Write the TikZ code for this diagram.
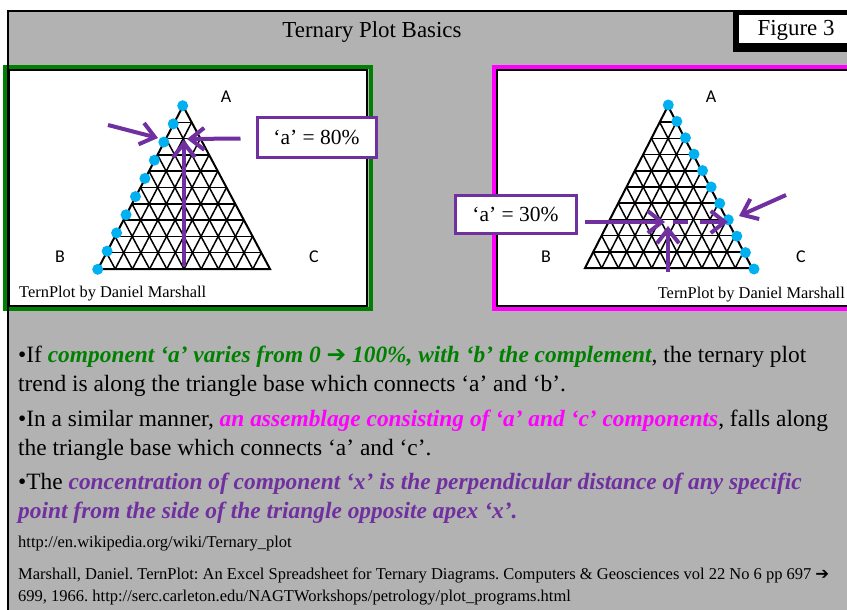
\documentclass[tikz,border=0pt]{standalone}
\usepackage{fontspec}
\setmainfont{Liberation Serif}
\newfontfamily\lblfont{Carlito}
\newfontfamily\symfont{DejaVu Sans}
\usepackage{xcolor}
\usetikzlibrary{arrows.meta,calc}

\definecolor{slidegray}{RGB}{178,178,178}
\definecolor{panelgreen}{RGB}{0,128,0}
\definecolor{panelpink}{RGB}{255,0,255}
\definecolor{arrowpurple}{RGB}{112,48,160}
\definecolor{dotblue}{RGB}{0,176,240}
\newcommand{\keyphrase}[2]{\textcolor{#1}{\bfseries\itshape #2}}
\frenchspacing

\begin{document}
\begin{tikzpicture}[
  x=1pt, y=-1pt,
  body/.style={anchor=base west, inner sep=0pt, font=\fontsize{23.4}{27}\selectfont},
  refline/.style={anchor=base west, inner sep=0pt, font=\fontsize{16.5}{19}\selectfont},
  corner/.style={inner sep=0pt, font=\lblfont\fontsize{18}{21}\selectfont},
  credit/.style={inner sep=0pt, font=\fontsize{16.4}{19}\selectfont},
  valbox/.style={draw=arrowpurple, line width=3pt, fill=white, inner sep=0pt, font=\fontsize{21.5}{25}\selectfont},
  pointer/.style={arrowpurple, line width=4pt, -{Straight Barb[length=14pt,width=22pt]}},
  gridline/.style={line width=1.5pt},
  dot/.style={circle, fill=dotblue, inner sep=0pt, minimum size=11pt},
]
\useasboundingbox (0,0) rectangle (847,610);
\clip (0,0) rectangle (847,610);
% slide background
\fill[white] (0,0) rectangle (847,610);
\fill[slidegray] (8,11) rectangle (870,630);
% picture panels
\draw[panelgreen, line width=4pt] (5,67) rectangle (371,309);
\draw[fill=white, line width=1.2pt] (9.5,70) rectangle (367,306);
\draw[panelpink, line width=4pt] (494,67) rectangle (880,309);
\draw[fill=white, line width=1.2pt] (497,70) rectangle (880,306);
\draw[line width=2pt] (8,630) -- (8,11) -- (870,11);
% title and figure tag
\node[font=\fontsize{22.9}{26}\selectfont] (title) at (372,32) {Ternary Plot Basics};
\fill (733,10) rectangle (870,52);
\fill[white] (739,15) rectangle (870,43);
\node[font=\fontsize{22.9}{26}\selectfont] (figtag) at (796,30) {Figure 3};
% triangle corners (l = left plot, r = right plot)
\coordinate (lA) at (183,106); \coordinate (lB) at (98,269); \coordinate (lC) at (270,269);
\coordinate (rA) at (668,106); \coordinate (rB) at (585,268); \coordinate (rC) at (752,268);
\foreach \side in {l,r}{
  \foreach \i in {1,...,9}{
    \draw[gridline] ($(\side B)!\i/10!(\side A)$) -- ($(\side C)!\i/10!(\side A)$);
    \draw[gridline] ($(\side B)!\i/10!(\side C)$) -- ($(\side B)!\i/10!(\side A)$);
    \draw[gridline] ($(\side B)!\i/10!(\side C)$) -- ($(\side C)!1-\i/10!(\side A)$);
  }
  \draw[line width=2pt] (\side A) -- (\side B) -- (\side C) -- cycle;
}
% data points
\foreach \k in {0,...,9}
  \node[dot] (ldot\k) at ($(182.7,105.7)!\k/9!(97.7,269.3)$) {};
\foreach \k in {0,...,10}
  \node[dot] (rdot\k) at ($(668.3,105)!\k/10!(754,269)$) {};
% apex labels
\node[corner] (lAname) at (226,97) {A};
\node[corner] (lBname) at (60,257) {B};
\node[corner] (lCname) at (314,257) {C};
\node[corner] (rAname) at (711,97) {A};
\node[corner] (rBname) at (546,257) {B};
\node[corner] (rCname) at (801,257) {C};
\node[credit, anchor=base west] (lcredit) at (19,297) {TernPlot by Daniel Marshall};
\node[credit, anchor=base east] (rcredit) at (845,298) {TernPlot by Daniel Marshall};
% value boxes and pointers
\node[valbox, minimum width=119pt, minimum height=40pt] (lval) at (316.5,137.5) {‘a’ = 80\%};
\node[valbox, minimum width=121pt, minimum height=38pt] (rval) at (515.5,214) {‘a’ = 30\%};
\coordinate (lhs) at ($(lval.west)+(-15,1)$);
\coordinate (lhe) at (187,139);
\coordinate (lvs) at (184,266);
\coordinate (lve) at (184,140);
\coordinate (lds) at (108,125);
\coordinate (lde) at (158,138);
\draw[pointer] (lhs) -- (lhe);
\draw[pointer] (lvs) -- (lve);
\draw[pointer] (lds) -- (lde);
\coordinate (rhs) at ($(rval.east)+(7,8)$);
\coordinate (rhe) at (665,222);
\coordinate (rcs) at (673,222);
\coordinate (rce) at (728,222);
\coordinate (rvs) at (668,272);
\coordinate (rve) at (668,226);
\coordinate (rds) at (786,195);
\coordinate (rde) at (739,216);
\draw[pointer] (rhs) -- (rhe);
\draw[pointer, dash pattern=on 15pt off 12pt on 60pt off 0pt] (rcs) -- (rce);
\draw[pointer] (rvs) -- (rve);
\draw[pointer] (rds) -- (rde);
% explanation text
\node[body] (p1a) at (18,362) {•If \keyphrase{panelgreen}{component ‘a’ varies from 0 {\symfont ➔} 100\%, with ‘b’ the complement}, the ternary plot};
\node[body] (p1b) at (18,391) {trend is along the triangle base which connects ‘a’ and ‘b’.};
\node[body] (p2a) at (18,426) {•In a similar manner, \keyphrase{panelpink}{an assemblage consisting of ‘a’ and ‘c’ components}, falls along};
\node[body] (p2b) at (18,455) {the triangle base which connects ‘a’ and ‘c’.};
\node[body] (p3a) at (18,489) {•The \keyphrase{arrowpurple}{concentration of component ‘x’ is the perpendicular distance of any specific}};
\node[body] (p3b) at (18,518) {\keyphrase{arrowpurple}{point from the side of the triangle opposite apex ‘x’.}};
\node[refline] (wiki) at (18,547) {http://en.wikipedia.org/wiki/Ternary\_plot};
\node[refline] (cite1) at (18,579) {Marshall, Daniel. TernPlot: An Excel Spreadsheet for Ternary Diagrams. Computers \& Geosciences vol 22 No 6 pp 697 {\symfont ➔}};
\node[refline] (cite2) at (18,601) {699, 1966. http://serc.carleton.edu/NAGTWorkshops/petrology/plot\_programs.html};
\end{tikzpicture}
\end{document}
